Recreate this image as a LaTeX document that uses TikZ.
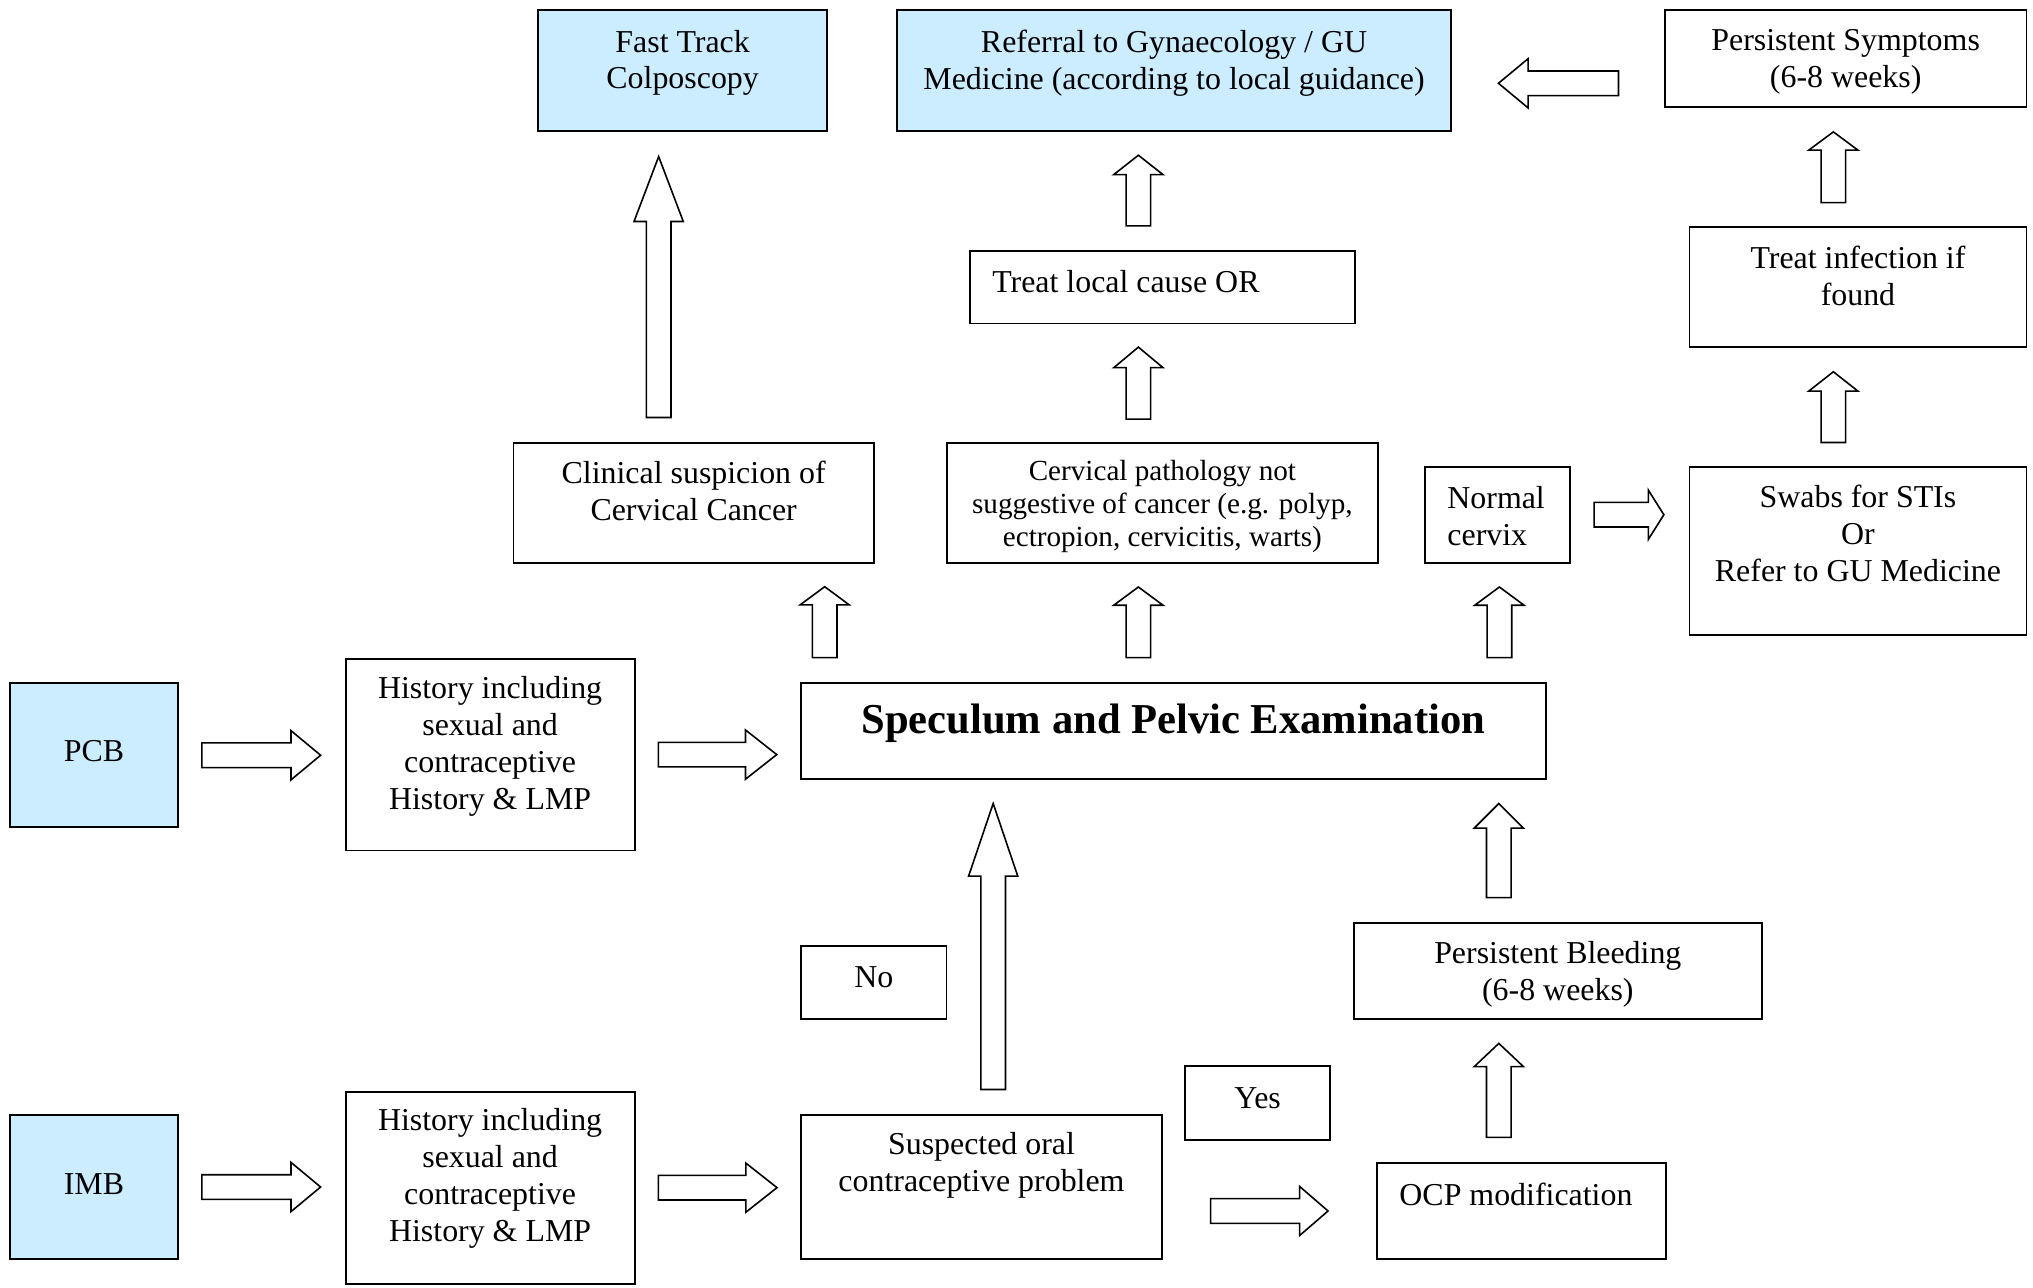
\documentclass[tikz,border=0pt]{standalone}
\usepackage{fontspec}
\setmainfont{Liberation Serif}
\usepackage{tikz}
\usetikzlibrary{calc}

\definecolor{boxblue}{RGB}{204,236,255}

\tikzset{
    box/.style={draw, line width=0.85pt, inner sep=0pt},
    bluebox/.style={box, fill=boxblue},
    txt/.style={align=center, inner sep=0pt, font=\fontsize{14}{16.2}\selectfont},
    smalltxt/.style={align=center, inner sep=0pt, font=\fontsize{12.8}{14.5}\selectfont},
    bigtxt/.style={inner sep=0pt, font=\fontsize{18.7}{22}\selectfont\bfseries},
    % hollow block arrows, #1 = head length
    fatup/.style={draw, fill=white, line width=0.7pt, to path={let \p1=(\tikztostart), \p2=(\tikztotarget) in
        (\x1-5.4pt,\y1) -- (\x1-5.4pt,\y2-#1) -- (\x1-10.8pt,\y2-#1) -- (\x1,\y2)
        -- (\x1+10.8pt,\y2-#1) -- (\x1+5.4pt,\y2-#1) -- (\x1+5.4pt,\y1) -- cycle}},
    fatright/.style={draw, fill=white, line width=0.7pt, to path={let \p1=(\tikztostart), \p2=(\tikztotarget) in
        (\x1,\y1-5.4pt) -- (\x2-#1,\y1-5.4pt) -- (\x2-#1,\y1-10.8pt) -- (\x2,\y1)
        -- (\x2-#1,\y1+10.8pt) -- (\x2-#1,\y1+5.4pt) -- (\x1,\y1+5.4pt) -- cycle}},
    fatleft/.style={draw, fill=white, line width=0.7pt, to path={let \p1=(\tikztostart), \p2=(\tikztotarget) in
        (\x1,\y1-5.4pt) -- (\x2+#1,\y1-5.4pt) -- (\x2+#1,\y1-10.8pt) -- (\x2,\y1)
        -- (\x2+#1,\y1+10.8pt) -- (\x2+#1,\y1+5.4pt) -- (\x1,\y1+5.4pt) -- cycle}},
}

\begin{document}
\begin{tikzpicture}[x=0.02cm, y=-0.02cm]
    \useasboundingbox (0,0) rectangle (1568,993);

    % top row
    \node[bluebox, minimum width=4.46cm, minimum height=1.86cm] (fast) at (526.5,54.5) {}; % fast track
    \node[txt] (fast-txt) at (526.5,48.5) {Fast Track\\Colposcopy};
    \node[bluebox, minimum width=8.54cm, minimum height=1.86cm] (refer) at (905.5,54.5) {}; % referral
    \node[txt] (refer-txt) at (905.5,48.5) {Referral to Gynaecology / GU\\Medicine (according to local guidance)};
    \node[box, minimum width=5.58cm, minimum height=1.49cm] (symp) at (1423.5,45.25) {}; % persistent symptoms
    \node[txt] (symp-txt) at (1423.5,48) {Persistent Symptoms\\(6-8 weeks)};

    % treatment row
    \node[box, minimum width=5.94cm, minimum height=1.12cm] (local) at (896.5,221.5) {}; % treat local cause
    \node[txt, anchor=west] (local-txt) at (765,217) {Treat local cause OR};
    \node[box, minimum width=5.2cm, minimum height=1.86cm] (infect) at (1433,221.5) {}; % treat infection
    \node[txt] (infect-txt) at (1433,212.5) {Treat infection if\\found};

    % findings row
    \node[box, minimum width=5.56cm, minimum height=1.85cm] (clin) at (535,388) {}; % suspicion of cancer
    \node[txt] (clin-txt) at (535,378.5) {Clinical suspicion of\\Cervical Cancer};
    \node[box, minimum width=6.66cm, minimum height=1.84cm] (cerv) at (896.5,388) {}; % other pathology
    \node[smalltxt] (cerv-txt) at (896.5,391) {Cervical pathology not\\suggestive of cancer (e.g. polyp,\\ectropion, cervicitis, warts)};
    \node[box, minimum width=2.23cm, minimum height=1.48cm] (normal) at (1155,397) {}; % normal cervix
    \node[txt, anchor=west, align=left] (normal-txt) at (1116,398) {Normal\\cervix};
    \node[box, minimum width=5.2cm, minimum height=2.6cm] (swabs) at (1433,425) {}; % swabs
    \node[txt] (swabs-txt) at (1433,411.5) {Swabs for STIs\\Or\\Refer to GU Medicine};

    % PCB row
    \node[bluebox, minimum width=2.6cm, minimum height=2.22cm] (pcb) at (72.5,582.5) {}; % PCB
    \node[txt] (pcb-txt) at (72.5,579) {PCB};
    \node[box, minimum width=4.46cm, minimum height=2.96cm] (hist1) at (378,582) {}; % history for PCB
    \node[txt] (hist1-txt) at (378,575.5) {History including\\sexual and\\contraceptive\\History \& LMP};
    \node[box, minimum width=11.49cm, minimum height=1.48cm] (spec) at (905,564) {}; % examination
    \node[bigtxt] (spec-txt) at (905,558) {Speculum and Pelvic Examination};

    % middle
    \node[box, minimum width=2.24cm, minimum height=1.13cm] (no) at (674,758) {}; % no
    \node[txt] (no-txt) at (674,754) {No};
    \node[box, minimum width=2.23cm, minimum height=1.14cm] (yes) at (970,850.5) {}; % yes
    \node[txt] (yes-txt) at (970,847) {Yes};
    \node[box, minimum width=6.3cm, minimum height=1.48cm] (bleed) at (1201.5,749) {}; % persistent bleeding
    \node[txt] (bleed-txt) at (1201.5,751.5) {Persistent Bleeding\\(6-8 weeks)};

    % IMB row
    \node[bluebox, minimum width=2.6cm, minimum height=2.22cm] (imb) at (72.5,915.5) {}; % IMB
    \node[txt] (imb-txt) at (72.5,913) {IMB};
    \node[box, minimum width=4.46cm, minimum height=2.96cm] (hist2) at (378,916) {}; % history for IMB
    \node[txt] (hist2-txt) at (378,909) {History including\\sexual and\\contraceptive\\History \& LMP};
    \node[box, minimum width=5.56cm, minimum height=2.22cm] (susp) at (757,915.5) {}; % oral contraceptive
    \node[txt] (susp-txt) at (757,899) {Suspected oral\\contraceptive problem};
    \node[box, minimum width=4.46cm, minimum height=1.48cm] (ocp) at (1173.5,934) {}; % OCP modification
    \node[txt, anchor=west] (ocp-txt) at (1079,921) {OCP modification};

    % block arrows
    \draw[fatright=13pt] ($(pcb.east)+(17.5,0)$) to ($(hist1.west)+(-18.5,0)$);
    \draw[fatright=13.7pt] ($(hist1.east)+(17.5,0)$) to ($(spec.west)+(-18,18)$);
    \draw[fatright=13pt] ($(imb.east)+(17.5,0)$) to ($(hist2.west)+(-18.5,0)$);
    \draw[fatright=13.7pt] ($(hist2.east)+(17.5,0)$) to ($(susp.west)+(-18,0)$);
    \draw[fatright=12.5pt] ($(susp.east)+(37,18.5)$) to ($(ocp.west)+(-37,0)$);
    \draw[fatright=6.8pt] ($(normal.east)+(18,0)$) to ($(swabs.west)+(-19,-28)$);
    \draw[fatleft=13pt] ($(symp.west)+(-35,19)$) to ($(refer.east)+(36,9.5)$);

    \draw[fatup=28.5pt] ($(clin.north)+(-27,-19)$) to ($(fast.south)+(-18.5,19)$);
    \draw[fatup=8.5pt] ($(local.north)+(-18.5,-18.5)$) to ($(refer.south)+(-27.5,18)$);
    \draw[fatup=9pt] ($(cerv.north)+(-18.5,-18)$) to ($(local.south)+(-18.5,17.5)$);
    \draw[fatup=8pt] ($(spec.north west)+(19,-19)$) to ($(clin.south)+(102,17.5)$);
    \draw[fatup=8pt] ($(spec.north)+(-27,-19)$) to ($(cerv.south)+(-18.5,18)$);
    \draw[fatup=8pt] ($(spec.north east)+(-36.5,-19)$) to ($(normal.south)+(1,18)$);
    \draw[fatup=8.5pt] ($(swabs.north)+(-19,-18)$) to ($(infect.south)+(-19,18)$);
    \draw[fatup=8pt] ($(infect.north)+(-19,-18)$) to ($(symp.south)+(-9.5,18.5)$);
    \draw[fatup=10.8pt] ($(bleed.north)+(-45.5,-19)$) to ($(spec.south east)+(-36.5,18)$);
    \draw[fatup=10.2pt] ($(ocp.north)+(-17.5,-19)$) to ($(bleed.south)+(-45.5,18)$);
    \draw[fatup=31.9pt] ($(susp.north)+(9,-19)$) to ($(spec.south)+(-139,18)$);
\end{tikzpicture}
\end{document}
